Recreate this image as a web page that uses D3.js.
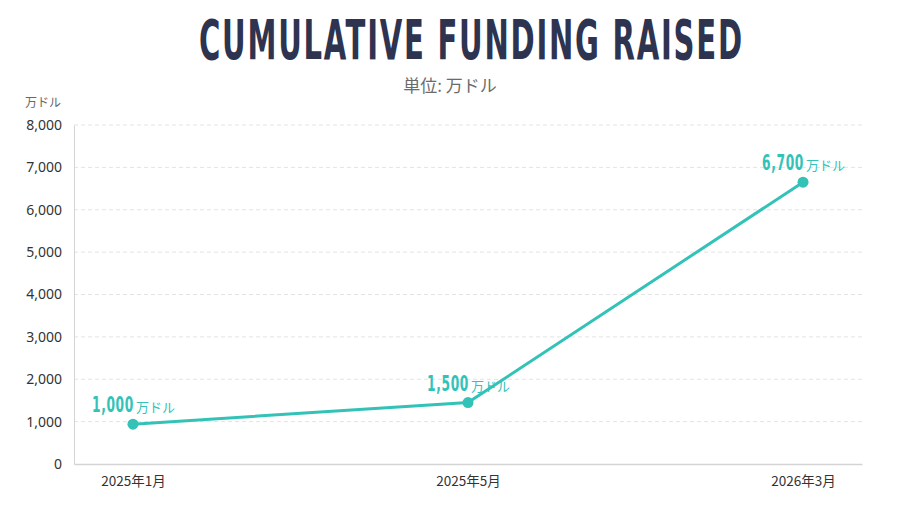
<!DOCTYPE html>
<html>
<head>
<meta charset="utf-8">
<script src="https://cdn.jsdelivr.net/npm/d3@7"></script>
<style>
  html, body { margin: 0; padding: 0; background: #fff; }
  svg { display: block; }
</style>
</head>
<body>
<svg id="chart" width="900" height="506"></svg>
<script>
// データ
const categories = ['2025年1月', '2025年5月', '2026年3月']
const funding = [940, 1450, 6650]
const fundingLabels = ['1,000', '1,500', '6,700']
const yTicks = [0, 1000, 2000, 3000, 4000, 5000, 6000, 7000, 8000]

const teal = '#33c2b7'
const cjk = '"Noto Sans CJK JP", "Noto Sans", sans-serif'
const narrow = '"DejaVu Sans Condensed", sans-serif'

const svg = d3.select('#chart')
const margin = { left: 74, right: 38, top: 125, bottom: 42 }
const width = 900 - margin.left - margin.right,
    height = 506 - margin.top - margin.bottom

// 横方向に縮めて幅を合わせる
function fitWidth (sel, w) {
    const n = sel.node()
    const k = w / n.getComputedTextLength()
    sel.attr('transform', `scale(${k},1)`)
    return k
}

// タイトル
const titleG = svg.append('g').attr('transform', 'translate(199,59)')
const title = titleG.append('text')
    .attr('font-family', narrow)
    .attr('font-weight', 'bold')
    .attr('font-size', 55)
    .attr('letter-spacing', 3)
    .attr('fill', '#2e3350')
    .text('CUMULATIVE FUNDING RAISED')
fitWidth(title, 545)

svg.append('text')
    .attr('x', 450).attr('y', 92)
    .attr('text-anchor', 'middle')
    .attr('font-family', cjk)
    .attr('font-size', 17)
    .attr('fill', '#6b6b6b')
    .text('単位: 万ドル')

svg.append('text')
    .attr('x', 25).attr('y', 107)
    .attr('font-family', cjk)
    .attr('font-size', 12)
    .attr('fill', '#666')
    .text('万ドル')

const g = svg.append('g')
    .attr('transform', `translate(${margin.left},${margin.top})`)

const x = d3.scalePoint()
    .domain(categories)
    .range([0, width])
    .padding(0.176)

const y = d3.scaleLinear()
    .domain([0, 8000])
    .range([height, 0])

// グリッド
g.append('g')
    .selectAll('line')
    .data(yTicks.slice(1))
    .join('line')
    .attr('x1', 0).attr('x2', width)
    .attr('y1', d => y(d)).attr('y2', d => y(d))
    .attr('stroke', '#e3e3e3')
    .attr('stroke-dasharray', '4,3')

// Y軸
const yAxis = g.append('g')
    .call(d3.axisLeft(y).tickValues(yTicks).tickSize(0).tickPadding(12).tickFormat(d3.format(',')))
yAxis.select('.domain').attr('stroke', '#d4d4d4')
yAxis.selectAll('text')
    .attr('font-family', '"Noto Sans", sans-serif')
    .attr('font-size', 14)
    .attr('fill', '#333')

// X軸
const xAxis = g.append('g')
    .attr('transform', `translate(0,${height})`)
    .call(d3.axisBottom(x).tickSize(0).tickPadding(12))
xAxis.select('.domain').attr('stroke', '#d4d4d4').attr('stroke-width', 1.5)
xAxis.selectAll('text')
    .attr('font-family', cjk)
    .attr('font-size', 13.5)
    .attr('fill', '#333')

// 折れ線
const rows = categories.map((c, i) => ({ c, v: funding[i], label: fundingLabels[i] }))

g.append('path')
    .datum(rows)
    .attr('fill', 'none')
    .attr('stroke', teal)
    .attr('stroke-width', 3)
    .attr('d', d3.line().x(d => x(d.c)).y(d => y(d.v)))

g.selectAll('circle.pt')
    .data(rows)
    .join('circle')
    .attr('class', 'pt')
    .attr('cx', d => x(d.c))
    .attr('cy', d => y(d.v))
    .attr('r', 5.5)
    .attr('fill', teal)

// データラベル
const lbl = g.selectAll('g.lbl')
    .data(rows)
    .join('g')
    .attr('class', 'lbl')
    .attr('transform', d => `translate(${x(d.c)},${y(d.v) - 12})`)
lbl.append('g')
    .attr('transform', 'translate(-41,0)')
    .append('text')
    .attr('font-family', narrow)
    .attr('font-weight', 'bold')
    .attr('font-size', 21)
    .attr('letter-spacing', 1)
    .attr('fill', teal)
    .text(d => d.label)
    .each(function () { fitWidth(d3.select(this), 42) })
lbl.append('text')
    .attr('x', 3)
    .attr('font-family', cjk)
    .attr('font-size', 13)
    .attr('fill', teal)
    .text('万ドル')
</script>
</body>
</html>
